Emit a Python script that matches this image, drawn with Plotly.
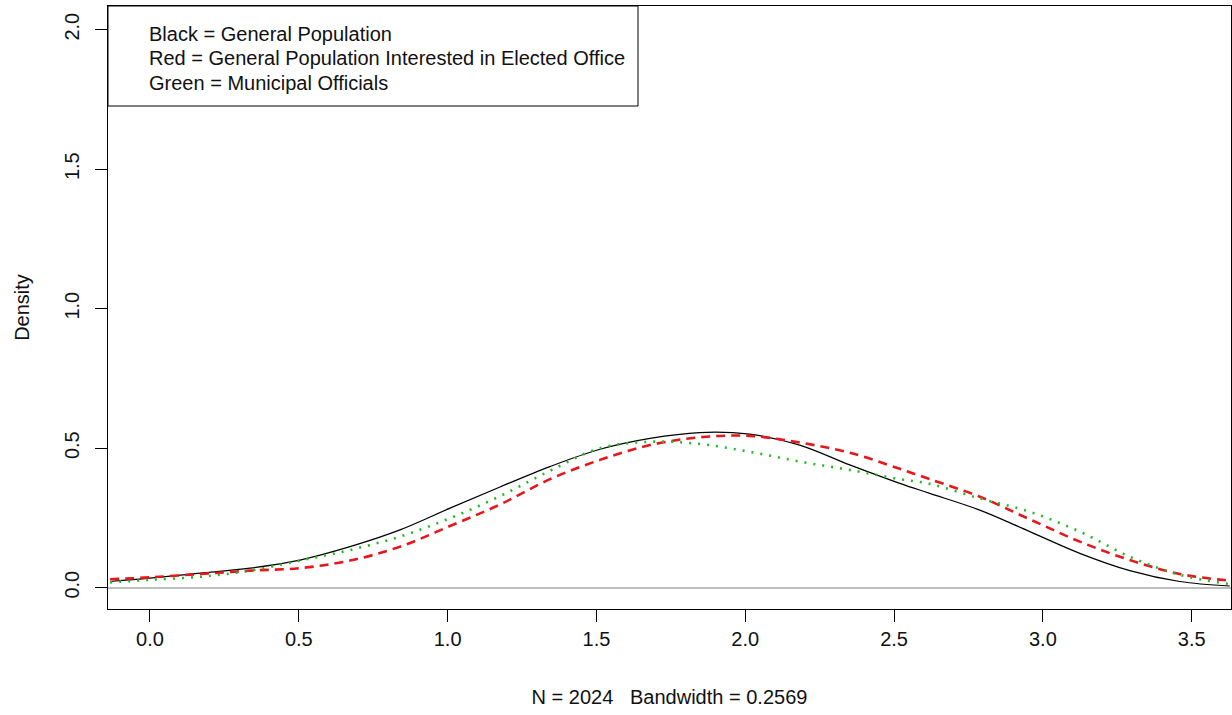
import plotly.graph_objects as go

x_vals = [-0.134, 0.0, 0.168, 0.336, 0.504, 0.672, 0.84, 1.008, 1.176, 1.344, 1.512, 1.68,
          1.847, 2.015, 2.183, 2.351, 2.519, 2.62, 2.788, 2.956, 3.124, 3.292, 3.46, 3.628]
black_general = [0.022, 0.034, 0.052, 0.070, 0.099, 0.147, 0.207, 0.285, 0.361, 0.434, 0.496, 0.535,
                 0.556, 0.550, 0.511, 0.440, 0.374, 0.338, 0.278, 0.201, 0.123, 0.061, 0.022, 0.006]
red_interested = [0.030, 0.037, 0.049, 0.061, 0.070, 0.097, 0.147, 0.221, 0.298, 0.389, 0.458, 0.511,
                  0.539, 0.544, 0.520, 0.484, 0.426, 0.389, 0.326, 0.245, 0.165, 0.099, 0.049, 0.025]
green_officials = [0.019, 0.028, 0.039, 0.061, 0.097, 0.135, 0.183, 0.249, 0.328, 0.419, 0.500, 0.523,
                   0.515, 0.487, 0.452, 0.422, 0.389, 0.372, 0.320, 0.272, 0.201, 0.111, 0.046, 0.013]

x_ticks = [0.0, 0.5, 1.0, 1.5, 2.0, 2.5, 3.0, 3.5]
y_ticks = [0.0, 0.5, 1.0, 1.5, 2.0]
legend_lines = ["Black = General Population",
                "Red = General Population Interested in Elected Office",
                "Green = Municipal Officials"]
x_title = "N = 2024   Bandwidth = 0.2569"
y_title = "Density"

FONT = "Liberation Sans, Arial, sans-serif"
fs = 20

fig = go.Figure()
fig.add_trace(go.Scatter(x=x_vals, y=black_general, mode="lines", line=dict(color="black", width=1.2, shape="spline"), showlegend=False))
fig.add_trace(go.Scatter(x=x_vals, y=red_interested, mode="lines", line=dict(color="#e8161b", width=2.6, dash="9px,6px", shape="spline"), showlegend=False))
fig.add_trace(go.Scatter(x=x_vals, y=green_officials, mode="lines", line=dict(color="#22bb22", width=2.6, dash="2px,7px", shape="spline"), showlegend=False))

fig.add_shape(type="rect", xref="paper", yref="paper", x0=0, x1=(638-108)/1123, y0=(609-106)/603, y1=1,
              line=dict(color="black", width=1), fillcolor="white", layer="above")
ys = [34, 58, 83]
for t, py in zip(legend_lines, ys):
    fig.add_annotation(text=t, xref="paper", yref="paper", x=(147-108)/1123, y=(609-py)/603,
                       xanchor="left", yanchor="middle", showarrow=False,
                       font=dict(family=FONT, size=fs, color="#111111"))

fig.update_layout(
    width=1232, height=715,
    margin=dict(l=108, r=1, t=6, b=106),
    paper_bgcolor="white", plot_bgcolor="white",
    font=dict(family=FONT, size=fs, color="#111111"),
    xaxis=dict(range=[-0.141, 3.632], tickvals=x_ticks, ticktext=[f"{v:.1f}" for v in x_ticks],
               ticks="outside", ticklen=12, tickcolor="black", showline=True, linecolor="black",
               mirror=True, showgrid=False, zeroline=False,
               title=dict(text=x_title, standoff=40, font=dict(size=fs))),
    yaxis=dict(range=[-0.0765, 2.085], tickvals=y_ticks, ticktext=[f"{v:.1f}" for v in y_ticks],
               tickangle=-90, ticks="outside", ticklen=12, tickcolor="black", showline=True,
               linecolor="black", mirror=True, showgrid=False, ticklabelstandoff=8,
               zeroline=True, zerolinecolor="#bebebe", zerolinewidth=1.5,
               title=dict(text=y_title, standoff=26, font=dict(size=fs))),
)

fig.write_html("out.html")
